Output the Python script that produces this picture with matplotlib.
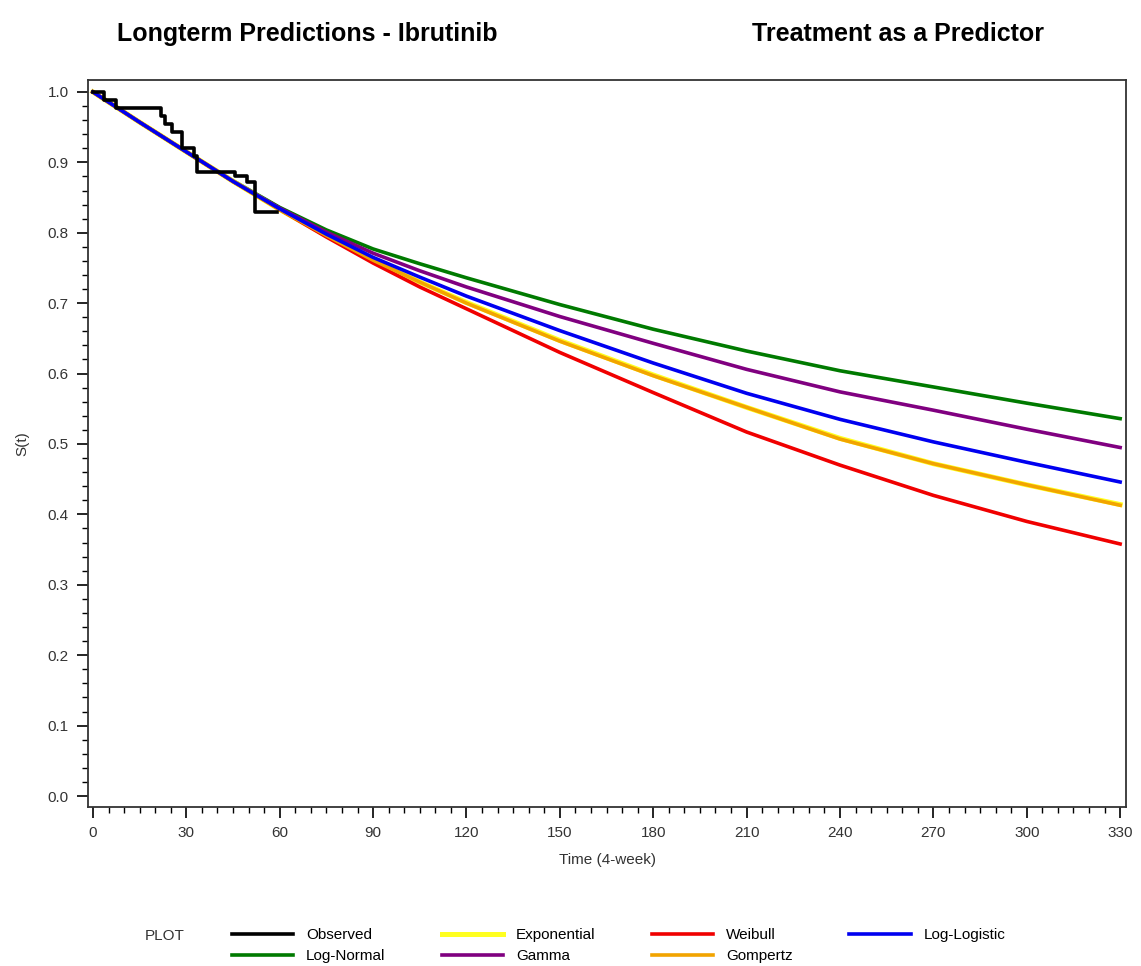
import matplotlib
matplotlib.use("Agg")
import matplotlib.pyplot as plt
from matplotlib.ticker import MultipleLocator

plt.rcParams["font.family"] = ["Liberation Sans Narrow", "Liberation Sans", "DejaVu Sans"]

# ---------------------------------------------------------------------------
# data
# ---------------------------------------------------------------------------
obs_t = [0, 3.5, 7.5, 22, 23, 25.5, 28.5, 32.5, 33.5, 45.5, 49.5, 52, 59]
obs_s = [1.0, 0.988, 0.977, 0.966, 0.955, 0.943, 0.920, 0.909, 0.886, 0.880, 0.872, 0.830, 0.830]

model_t = [0, 15, 30, 45, 60, 75, 90, 105, 120, 150, 180, 210, 240, 270, 300, 330]
exponential = [1.0, 0.957, 0.915, 0.873, 0.833, 0.796, 0.761, 0.730, 0.701, 0.647, 0.598, 0.552, 0.508, 0.472, 0.442, 0.414]
weibull     = [1.0, 0.957, 0.915, 0.873, 0.833, 0.794, 0.757, 0.723, 0.692, 0.630, 0.573, 0.517, 0.470, 0.427, 0.390, 0.358]
loglogistic = [1.0, 0.957, 0.915, 0.873, 0.834, 0.798, 0.765, 0.737, 0.710, 0.661, 0.615, 0.572, 0.535, 0.503, 0.474, 0.446]
lognormal   = [1.0, 0.957, 0.915, 0.874, 0.836, 0.804, 0.777, 0.756, 0.736, 0.698, 0.663, 0.632, 0.604, 0.581, 0.558, 0.536]
gamma       = [1.0, 0.957, 0.915, 0.873, 0.835, 0.801, 0.771, 0.746, 0.723, 0.681, 0.643, 0.606, 0.574, 0.548, 0.521, 0.495]
gompertz    = [1.0, 0.957, 0.915, 0.873, 0.833, 0.796, 0.761, 0.730, 0.700, 0.646, 0.597, 0.552, 0.507, 0.472, 0.442, 0.413]

x_ticks = list(range(0, 331, 30))
y_ticks = [round(0.1 * i, 1) for i in range(11)]

# ---------------------------------------------------------------------------
# figure
# ---------------------------------------------------------------------------
fig = plt.figure(figsize=(11.41, 9.66), dpi=100)
ax = fig.add_axes([0.0771, 0.1646, 0.9098, 0.7526])

ax.step(obs_t, obs_s, where="post", color="black", lw=2.6, label="Observed", zorder=5)
ax.plot(model_t, lognormal, color="#007A00", lw=2.6, label="Log-Normal")
ax.plot(model_t, exponential, color="#FFFF20", lw=3.6, label="Exponential")
ax.plot(model_t, gamma, color="#800080", lw=2.6, label="Gamma")
ax.plot(model_t, weibull, color="#F00000", lw=2.6, label="Weibull")
ax.plot(model_t, gompertz, color="#F2A400", lw=2.6, label="Gompertz")
ax.plot(model_t, loglogistic, color="#0000F0", lw=2.6, label="Log-Logistic")

ax.set_xlim(-1.6, 331.9)
ax.set_ylim(-0.0156, 1.017)
ax.set_xticks(x_ticks)
ax.set_yticks(y_ticks)
ax.set_yticklabels([f"{v:.1f}" for v in y_ticks])
ax.xaxis.set_minor_locator(MultipleLocator(5))
ax.yaxis.set_minor_locator(MultipleLocator(0.02))
ax.tick_params(which="major", direction="out", length=8, width=1.2,
               labelsize=11, labelcolor="#333333", pad=6)
ax.tick_params(which="minor", direction="out", length=4, width=1.0)
for spine in ax.spines.values():
    spine.set_linewidth(1.3)
    spine.set_color("#333333")

ax.set_xlabel("Time (4-week)", fontsize=11, color="#333333", labelpad=9)
ax.set_ylabel("S(t)", fontsize=11, color="#333333", labelpad=13)

fig.text(0.1025, 0.958, "Longterm Predictions - Ibrutinib", fontsize=18,
         fontweight="bold", ha="left", va="baseline")
fig.text(0.787, 0.958, "Treatment as a Predictor", fontsize=18,
         fontweight="bold", ha="center", va="baseline")

# legend laid out like the SAS one: "PLOT" label then 4 columns
handles, labels = ax.get_legend_handles_labels()
order = ["Observed", "Log-Normal", "Exponential", "Gamma", "Weibull", "Gompertz", "Log-Logistic"]
hmap = dict(zip(labels, handles))
fig.text(0.127, 0.027, "PLOT", fontsize=11, color="#333333", ha="left", va="baseline")
fig.legend([hmap[k] for k in order], order, ncol=4, frameon=False,
           loc="lower left", bbox_to_anchor=(0.194, -0.008), fontsize=11,
           handlelength=4.0, handletextpad=0.85, columnspacing=3.7,
           labelspacing=0.45, borderpad=0.2)

fig.savefig("out.png", dpi=100, facecolor="white")
